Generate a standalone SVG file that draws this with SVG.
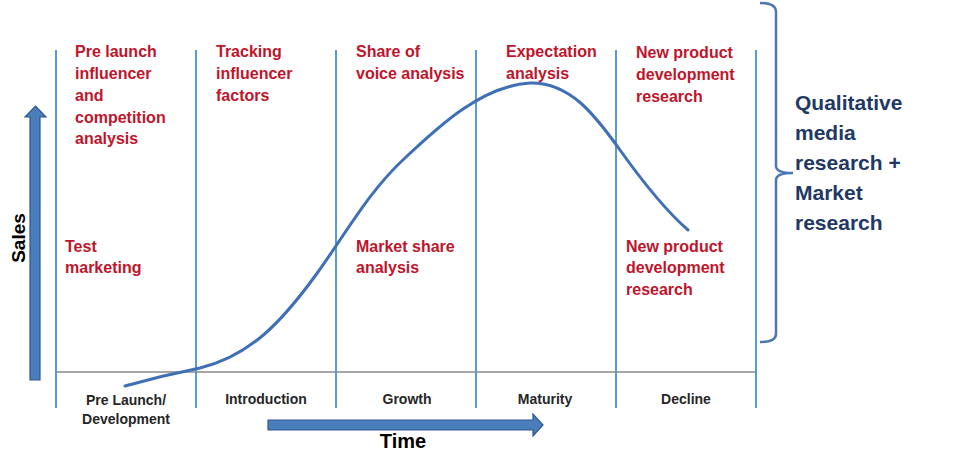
<svg xmlns="http://www.w3.org/2000/svg" width="955" height="465" viewBox="0 0 955 465">
<style>
.vl{stroke:#5B9BD5;stroke-width:2;fill:none}
.ax{stroke:#A6A6A6;stroke-width:2;fill:none}
.red{font-family:"Liberation Sans",Arial,sans-serif;font-weight:bold;font-size:16px;fill:#C0142B}
.ph{font-family:"Liberation Sans",Arial,sans-serif;font-weight:bold;font-size:14px;fill:#262626;text-anchor:middle}
.big{font-family:"Liberation Sans",Arial,sans-serif;font-weight:bold;fill:#000}
.navy{font-family:"Liberation Sans",Arial,sans-serif;font-weight:bold;font-size:21px;fill:#1F3864}
.arr{fill:#4A7EBB;stroke:#2F5597;stroke-width:1.2}
</style>
<rect width="955" height="465" fill="#fff"/>
<g id="grid">
<line class="ax" x1="56" y1="372" x2="756" y2="372"/>
<line class="vl" x1="56" y1="50" x2="56" y2="408"/>
<line class="vl" x1="196" y1="50" x2="196" y2="408"/>
<line class="vl" x1="336" y1="50" x2="336" y2="408"/>
<line class="vl" x1="476" y1="50" x2="476" y2="408"/>
<line class="vl" x1="616" y1="50" x2="616" y2="408"/>
<line class="vl" x1="756" y1="50" x2="756" y2="408"/>
</g>
<g id="axes">
<path class="arr" d="M30,380 L30,117 L25,117 L35.5,106 L46,117 L40,117 L40,380 Z"/>
<text class="big" font-size="19" text-anchor="middle" transform="translate(25,238) rotate(-90)">Sales</text>
<path class="arr" d="M268,420 L533,420 L533,414 L543,425 L533,436 L533,430 L268,430 Z"/>
<text class="big" font-size="20" x="403" y="448" text-anchor="middle">Time</text>
</g>
<g id="connectors">
<path d="M125,386 C150,379 175,373 200,368 C250,356 282,322 318,272 C348,230 370,190 405,158 C440,125 482,86 530,83 C570,82 595,115 620,150 C645,185 665,210 688,230" fill="none" stroke="#3F6FB5" stroke-width="3" stroke-linecap="round"/>
</g>
<g id="node-col1">
<text class="red" x="75" y="57">Pre launch</text>
<text class="red" x="75" y="79">influencer</text>
<text class="red" x="75" y="101">and</text>
<text class="red" x="75" y="123">competition</text>
<text class="red" x="75" y="144">analysis</text>
</g>
<g id="node-col2">
<text class="red" x="216" y="57">Tracking</text>
<text class="red" x="216" y="79">influencer</text>
<text class="red" x="216" y="101">factors</text>
</g>
<g id="node-col3">
<text class="red" x="356" y="57">Share of</text>
<text class="red" x="356" y="79">voice analysis</text>
</g>
<g id="node-col4">
<text class="red" x="506" y="57">Expectation</text>
<text class="red" x="506" y="79">analysis</text>
</g>
<g id="node-col5">
<text class="red" x="636" y="58">New product</text>
<text class="red" x="636" y="80">development</text>
<text class="red" x="636" y="102">research</text>
</g>
<g id="node-test">
<text class="red" x="65" y="252">Test</text>
<text class="red" x="65" y="273">marketing</text>
</g>
<g id="node-share">
<text class="red" x="356" y="252">Market share</text>
<text class="red" x="356" y="273">analysis</text>
</g>
<g id="node-npd2">
<text class="red" x="626" y="252">New product</text>
<text class="red" x="626" y="273">development</text>
<text class="red" x="626" y="295">research</text>
</g>
<g id="phases">
<text class="ph" x="126" y="405">Pre Launch/</text>
<text class="ph" x="126" y="424">Development</text>
<text class="ph" x="266" y="404">Introduction</text>
<text class="ph" x="407" y="404">Growth</text>
<text class="ph" x="545" y="404">Maturity</text>
<text class="ph" x="686" y="404">Decline</text>
</g>
<g id="brace">
<path d="M760,3 Q776,3 776,12 L776,166 Q776,173 793,173 Q776,173 776,180 L776,334 Q776,342 760,342" fill="none" stroke="#4A76B4" stroke-width="2.5"/>
</g>
<g id="node-qual">
<text class="navy" x="795" y="110">Qualitative</text>
<text class="navy" x="795" y="140">media</text>
<text class="navy" x="795" y="170">research +</text>
<text class="navy" x="795" y="200">Market</text>
<text class="navy" x="795" y="230">research</text>
</g>
</svg>
